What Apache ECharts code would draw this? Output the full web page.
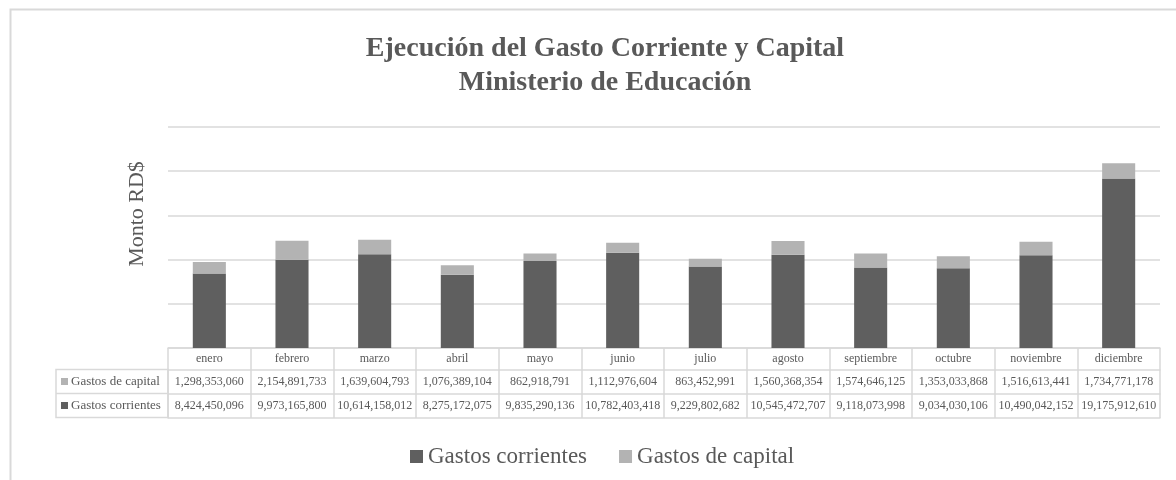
<!DOCTYPE html>
<html>
<head>
<meta charset="utf-8">
<script src="https://cdn.jsdelivr.net/npm/echarts@6/dist/echarts.min.js"></script>
<style>
  html, body { margin: 0; padding: 0; background: #fff; }
  #chart { width: 1176px; height: 480px; }
</style>
</head>
<body>
<div id="chart"></div>
<script>
var meses = ['enero', 'febrero', 'marzo', 'abril', 'mayo', 'junio', 'julio', 'agosto', 'septiembre', 'octubre', 'noviembre', 'diciembre']
var gastosCapital = [1298353060, 2154891733, 1639604793, 1076389104, 862918791, 1112976604, 863452991, 1560368354, 1574646125, 1353033868, 1516613441, 1734771178]
var gastosCorrientes = [8424450096, 9973165800, 10614158012, 8275172075, 9835290136, 10782403418, 9229802682, 10545472707, 9118073998, 9034030106, 10490042152, 19175912610]

var fuente = "'Liberation Serif', 'DejaVu Serif', serif"
var gris = '#595959'
var linea = '#d9d9d9'
var colorCorrientes = '#5f5f5f'
var colorCapital = '#b3b3b3'

const fmt = v => v.toLocaleString('en-US')

// eje extra para cada fila de la tabla de datos
const filaTabla = (datos, offset) => {
  return {
    type: 'category',
    data: datos,
    position: 'bottom',
    offset: offset,
    axisLine: { show: true, lineStyle: { color: linea, width: 1.5 } },
    axisTick: { show: false },
    axisLabel: { interval: 0, color: gris, fontFamily: fuente, fontSize: 12, verticalAlign: 'middle', margin: 12 },
    splitLine: { show: false }
  }
}

var chart = echarts.init(document.getElementById('chart'))

var option = {
  animation: false,
  textStyle: { fontFamily: fuente },
  title: {
    text: 'Ejecución del Gasto Corriente y Capital\nMinisterio de Educación',
    left: 600,
    textAlign: 'center',
    top: 27,
    textStyle: { color: gris, fontFamily: fuente, fontSize: 28, fontWeight: 'bold', lineHeight: 34 }
  },
  legend: {
    data: ['Gastos corrientes', 'Gastos de capital'],
    left: 405,
    top: 440,
    itemWidth: 13,
    itemHeight: 13,
    itemGap: 32,
    icon: 'rect',
    textStyle: { color: gris, fontFamily: fuente, fontSize: 23 }
  },
  grid: { left: 168, right: 16, top: 127, bottom: 132, containLabel: false },
  xAxis: [
    {
      type: 'category',
      data: meses,
      position: 'bottom',
      axisLine: { show: true, lineStyle: { color: linea, width: 1.5 } },
      axisTick: { show: true, interval: 0, length: 70, lineStyle: { color: linea, width: 1.5 } },
      axisLabel: { interval: 0, color: gris, fontFamily: fuente, fontSize: 12, verticalAlign: 'middle', margin: 11 }
    },
    filaTabla(gastosCapital.map(fmt), 22),
    filaTabla(gastosCorrientes.map(fmt), 46),
    {
      type: 'category',
      data: meses,
      position: 'bottom',
      offset: 70,
      axisLine: { show: true, lineStyle: { color: linea, width: 1.5 } },
      axisTick: { show: false },
      axisLabel: { show: false }
    }
  ],
  yAxis: {
    type: 'value',
    min: 0,
    max: 25000000000,
    interval: 5000000000,
    axisLabel: { show: false },
    axisLine: { show: false },
    axisTick: { show: false },
    splitLine: { lineStyle: { color: linea, width: 1.5 } }
  },
  series: [
    {
      name: 'Gastos corrientes',
      type: 'bar',
      stack: 'total',
      barWidth: '40%',
      itemStyle: { color: colorCorrientes },
      data: gastosCorrientes
    },
    {
      name: 'Gastos de capital',
      type: 'bar',
      stack: 'total',
      barWidth: '40%',
      itemStyle: { color: colorCapital },
      data: gastosCapital
    }
  ],
  graphic: [
    // borde exterior del area del grafico
    { type: 'rect', shape: { x: 10.5, y: 9.5, width: 1200, height: 500 }, style: { fill: null, stroke: linea, lineWidth: 2 }, silent: true },
    // titulo del eje vertical
    {
      type: 'text', x: 137, y: 214, rotation: Math.PI / 2,
      style: { text: 'Monto RD$', fill: gris, font: '22px ' + fuente, align: 'center', verticalAlign: 'middle' }
    },
    // columna de encabezados de la tabla de datos
    { type: 'rect', shape: { x: 56, y: 369.5, width: 112, height: 48 }, style: { fill: null, stroke: linea, lineWidth: 1.5 } },
    { type: 'line', shape: { x1: 56, y1: 393.5, x2: 168, y2: 393.5 }, style: { stroke: linea, lineWidth: 1.5 } },
    { type: 'rect', shape: { x: 61, y: 378, width: 7, height: 7 }, style: { fill: colorCapital } },
    { type: 'text', x: 71, y: 382, style: { text: 'Gastos de capital', fill: gris, font: '13px ' + fuente, verticalAlign: 'middle' } },
    { type: 'rect', shape: { x: 61, y: 402, width: 7, height: 7 }, style: { fill: colorCorrientes } },
    { type: 'text', x: 71, y: 406, style: { text: 'Gastos corrientes', fill: gris, font: '13px ' + fuente, verticalAlign: 'middle' } }
  ]
}

chart.setOption(option)
</script>
</body>
</html>
